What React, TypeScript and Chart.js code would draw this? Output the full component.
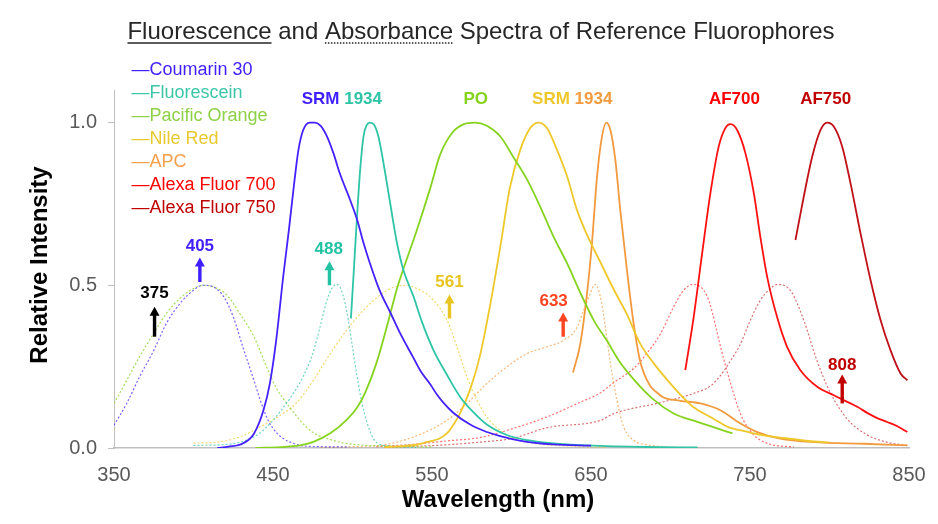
import React, { useEffect, useRef } from 'react';
import { Chart, registerables } from 'chart.js';

Chart.register(...registerables);

const FONT = '"Liberation Sans", Arial, sans-serif';

// ---- series names / colours ----
const fluorophores = ['Coumarin 30', 'Fluorescein', 'Pacific Orange', 'Nile Red', 'APC', 'Alexa Fluor 700', 'Alexa Fluor 750'];
const lineColors = ['#4422FF', '#2EC4A6', '#86D31E', '#EEC82A', '#F29A3E', '#FF1010', '#C01018'];
const dotColors = ['rgba(68,34,255,0.7)', 'rgba(46,196,166,0.7)', 'rgba(134,211,30,0.75)', 'rgba(238,200,42,0.7)', 'rgba(242,154,62,0.7)', 'rgba(255,16,16,0.6)', 'rgba(192,16,24,0.6)'];
const legendColors = ['#3F1FFF', '#3CC6A8', '#8ED148', '#E9C92E', '#F4A04A', '#FF0000', '#C00000'];

// ---- emission spectra (wavelength nm, relative intensity) ----
const coumarinEm: [number, number][] = [[415, 0], [422, 0.004], [431, 0.014], [438, 0.044], [444, 0.116], [448, 0.198], [452, 0.331], [456.5, 0.53], [460, 0.67], [463, 0.8], [466, 0.916], [469, 0.977], [473, 1.0], [476.5, 1.0], [480, 0.99], [484, 0.957], [488, 0.906], [492, 0.844], [498.5, 0.762], [503, 0.7], [507, 0.629], [511, 0.567], [517, 0.485], [524, 0.414], [530, 0.352], [538, 0.28], [543, 0.235], [549, 0.195], [553, 0.165], [557, 0.14], [563, 0.11], [574, 0.072], [584, 0.05], [595, 0.034], [605, 0.023], [626, 0.011], [650, 0.007]];
const fluoresceinEm: [number, number][] = [[499, 0.398], [500.6, 0.526], [502.7, 0.7], [504.8, 0.854], [506.9, 0.957], [509, 0.993], [511, 1.0], [513.6, 0.993], [516.3, 0.957], [519.5, 0.875], [523.7, 0.752], [528, 0.629], [532, 0.547], [538.4, 0.465], [543.5, 0.39], [551, 0.3], [559.4, 0.225], [567.7, 0.157], [576, 0.11], [584.5, 0.072], [597, 0.04], [610, 0.024], [626.5, 0.014], [647.5, 0.008], [685, 0.003], [717, 0.002]];
const pacificOrangeEm: [number, number][] = [[439, 0], [455, 0.003], [467, 0.008], [475, 0.018], [486, 0.045], [496, 0.085], [503, 0.125], [508, 0.17], [515, 0.26], [522, 0.38], [528, 0.49], [532, 0.55], [540.5, 0.67], [549, 0.8], [555, 0.9], [563, 0.97], [570, 0.995], [577, 1.0], [584.5, 0.99], [593, 0.957], [601, 0.895], [610, 0.823], [618, 0.742], [626.5, 0.649], [635, 0.567], [643, 0.48], [652, 0.39], [660, 0.33], [668, 0.265], [677, 0.21], [689, 0.15], [702, 0.106], [717, 0.08], [739, 0.045]];
const nileRedEm: [number, number][] = [[520, 0.002], [540, 0.01], [545, 0.016], [555, 0.03], [560, 0.048], [564, 0.075], [568, 0.11], [574, 0.18], [580, 0.28], [586.6, 0.44], [593, 0.62], [599, 0.8], [605.5, 0.916], [611.8, 0.983], [617, 1.0], [622.3, 0.983], [628.6, 0.916], [635, 0.834], [641.2, 0.731], [647.5, 0.655], [656, 0.57], [664, 0.49], [672.7, 0.41], [681, 0.32], [689.5, 0.26], [697.8, 0.21], [706, 0.165], [714.6, 0.125], [727, 0.09], [736, 0.065], [748, 0.05], [757, 0.04], [769, 0.032], [790, 0.02], [800, 0.017]];
const apcEm: [number, number][] = [[638.7, 0.232], [643.3, 0.321], [647.5, 0.475], [650.6, 0.629], [653.8, 0.834], [656.9, 0.957], [659.6, 1.0], [662.2, 0.977], [665.3, 0.885], [668.4, 0.731], [672.6, 0.547], [676.8, 0.383], [681, 0.265], [687.3, 0.19], [691.5, 0.17], [695.7, 0.155], [706.2, 0.145], [718.8, 0.137], [731.4, 0.116], [744, 0.075], [754.5, 0.049], [769, 0.029], [790, 0.018], [821.5, 0.013], [849, 0.008]];
const af700Em: [number, number][] = [[709.3, 0.239], [714.6, 0.403], [719.9, 0.598], [725.1, 0.783], [730.3, 0.926], [734.5, 0.983], [737.7, 0.995], [741.9, 0.977], [747.1, 0.906], [752.4, 0.783], [756.5, 0.649], [760.8, 0.526], [767, 0.403], [773.3, 0.311], [781.7, 0.239], [792.3, 0.188], [802.7, 0.162], [813.2, 0.137], [818, 0.125], [823.7, 0.108], [830, 0.092], [836.3, 0.08], [843, 0.066], [849, 0.049]];
const af750Em: [number, number][] = [[778.6, 0.639], [783.8, 0.772], [789.1, 0.895], [794.3, 0.977], [798.5, 1.0], [802.7, 0.988], [808, 0.926], [813.2, 0.814], [819.5, 0.66], [825.8, 0.516], [832.1, 0.393], [838.4, 0.3], [844.7, 0.229], [849, 0.208]];

// ---- absorbance spectra (scaled to 0.5) ----
const coumarinAbs: [number, number][] = [[350, 0.07], [358, 0.137], [366, 0.218], [375, 0.3], [383, 0.383], [391.5, 0.444], [400, 0.485], [406, 0.5], [412.5, 0.495], [419, 0.465], [425, 0.403], [431, 0.311], [438, 0.208], [442, 0.147], [446, 0.095], [450, 0.06], [456.5, 0.029], [463, 0.014], [467, 0.008], [480, 0.004], [498, 0.003]];
const fluoresceinAbs: [number, number][] = [[400, 0.008], [423, 0.012], [440, 0.04], [450, 0.085], [455, 0.115], [461, 0.155], [469, 0.22], [475, 0.29], [480, 0.38], [484, 0.455], [487, 0.49], [490, 0.503], [493, 0.485], [496.4, 0.42], [500, 0.31], [502.7, 0.225], [506, 0.137], [509, 0.08], [513, 0.03], [519.5, 0.008], [540, 0.002]];
const pacificOrangeAbs: [number, number][] = [[350, 0.137], [358, 0.208], [366, 0.28], [375, 0.352], [383, 0.414], [391.5, 0.46], [400, 0.49], [406, 0.5], [412.5, 0.495], [421, 0.47], [429, 0.414], [438, 0.342], [446, 0.249], [452, 0.185], [459, 0.135], [467, 0.085], [475, 0.048], [486, 0.026], [496, 0.014], [520, 0.006], [550, 0.003]];
const nileRedAbs: [number, number][] = [[400, 0.015], [415, 0.018], [429, 0.034], [442, 0.065], [454.5, 0.1], [465, 0.14], [475.4, 0.208], [486, 0.29], [496.4, 0.362], [507, 0.424], [517.4, 0.47], [526, 0.494], [533, 0.5], [542.6, 0.485], [551, 0.454], [559.4, 0.393], [565.7, 0.311], [572, 0.218], [578.3, 0.147], [584.5, 0.095], [593, 0.054], [601.4, 0.029], [614, 0.014], [640, 0.005], [660, 0.002]];
const apcAbs: [number, number][] = [[480, 0.002], [500, 0.004], [517.4, 0.008], [538.4, 0.034], [559.4, 0.085], [572, 0.137], [584.5, 0.198], [597, 0.249], [609.7, 0.29], [622.3, 0.311], [632.8, 0.331], [641.2, 0.37], [645.4, 0.424], [649.6, 0.475], [652.5, 0.503], [655.9, 0.465], [659, 0.372], [662.2, 0.26], [666.3, 0.147], [670.5, 0.065], [676.8, 0.024], [685, 0.01], [719, 0.0]];
const af700Abs: [number, number][] = [[515, 0.004], [540, 0.012], [560, 0.022], [580, 0.032], [601, 0.06], [622, 0.095], [643, 0.14], [656, 0.17], [664, 0.2], [677, 0.245], [685, 0.29], [693.6, 0.35], [702, 0.434], [708.3, 0.485], [714.6, 0.503], [720.9, 0.485], [725, 0.44], [731, 0.32], [737.7, 0.2], [744, 0.105], [752, 0.042], [761, 0.014], [777.6, 0.003]];
const af750Abs: [number, number][] = [[520, 0.002], [560, 0.01], [580, 0.018], [601, 0.03], [622, 0.062], [656, 0.085], [664, 0.105], [694, 0.14], [714.6, 0.168], [725, 0.19], [731, 0.22], [736, 0.255], [744, 0.32], [750, 0.39], [756, 0.45], [762.8, 0.49], [767.5, 0.503], [776, 0.48], [784, 0.39], [792, 0.27], [800, 0.175], [811, 0.09], [823, 0.042], [836, 0.018], [849, 0.008]];

const emissions = [coumarinEm, fluoresceinEm, pacificOrangeEm, nileRedEm, apcEm, af700Em, af750Em];
const absorbances = [coumarinAbs, fluoresceinAbs, pacificOrangeAbs, nileRedAbs, apcAbs, af700Abs, af750Abs];

// ---- axes ----
const xTicks = [350, 450, 550, 650, 750, 850];
const yTicks = [0, 0.5, 1.0];
const xRange = [350, 850];
const yRange = [0, 1.1];

// ---- laser line annotations ----
const laserLabels = ['375', '405', '488', '561', '633', '808'];
const laserArrowWl = [375.5, 404, 485.5, 561, 632.5, 808];
const laserLabelWl = [375.5, 404, 485, 561, 626.5, 808];
const laserLabelY = [0.475, 0.62, 0.61, 0.509, 0.451, 0.254];
const arrowTipY = [0.434, 0.585, 0.574, 0.472, 0.416, 0.226];
const arrowBaseY = [0.342, 0.51, 0.5, 0.398, 0.342, 0.137];
const laserColors = ['#000000', '#3F1FFF', '#22C2A2', '#E9C420', '#FF4422', '#C00000'];

// ---- peak labels ----
const peakLabels: [string, string][][] = [
  [['SRM', '#3F1FFF'], [' 1934', '#2EC4A6']],
  [['PO', '#86D31E']],
  [['SRM', '#EEC82A'], [' 1934', '#F29A3E']],
  [['AF700', '#FF0000']],
  [['AF750', '#C00000']],
];
const peakLabelWl = [493.3, 577.5, 638.2, 740.2, 797.6];
const peakLabelY = 1.07;

const titleParts: [string, string][] = [['Fluorescence', 'solid'], [' and ', 'none'], ['Absorbance', 'dotted'], [' Spectra of Reference Fluorophores', 'none']];

const overlayPlugin = {
  id: 'overlay',
  afterDatasetsDraw(chart: any) {
    const { ctx, scales } = chart;
    const x = scales.x;
    const y = scales.y;
    ctx.save();
    // arrows + laser labels
    laserArrowWl.forEach((wl, i) => {
      const px = x.getPixelForValue(wl);
      const tip = y.getPixelForValue(arrowTipY[i]);
      const base = y.getPixelForValue(arrowBaseY[i]);
      ctx.strokeStyle = laserColors[i];
      ctx.fillStyle = laserColors[i];
      ctx.lineWidth = 3.4;
      ctx.beginPath();
      ctx.moveTo(px, base);
      ctx.lineTo(px, tip + 7);
      ctx.stroke();
      ctx.beginPath();
      ctx.moveTo(px, tip);
      ctx.lineTo(px - 5, tip + 9);
      ctx.lineTo(px + 5, tip + 9);
      ctx.closePath();
      ctx.fill();
      ctx.font = `bold 17px ${FONT}`;
      ctx.textAlign = 'center';
      ctx.textBaseline = 'middle';
      ctx.fillText(laserLabels[i], x.getPixelForValue(laserLabelWl[i]), y.getPixelForValue(laserLabelY[i]));
    });
    // peak labels
    ctx.font = `bold 17px ${FONT}`;
    ctx.textBaseline = 'middle';
    ctx.textAlign = 'left';
    peakLabels.forEach((parts, i) => {
      const total = parts.reduce((s, p) => s + ctx.measureText(p[0]).width, 0);
      let cx = x.getPixelForValue(peakLabelWl[i]) - total / 2;
      const cy = y.getPixelForValue(peakLabelY);
      parts.forEach((p) => {
        ctx.fillStyle = p[1];
        ctx.fillText(p[0], cx, cy);
        cx += ctx.measureText(p[0]).width;
      });
    });
    ctx.restore();
  },
  afterDraw(chart: any) {
    const { ctx } = chart;
    ctx.save();
    // title
    ctx.font = `24px ${FONT}`;
    ctx.textBaseline = 'alphabetic';
    ctx.textAlign = 'left';
    ctx.fillStyle = '#262626';
    const tw = titleParts.reduce((s, p) => s + ctx.measureText(p[0]).width, 0);
    let tx = 473 - tw / 2;
    const ty = 31;
    titleParts.forEach((p) => {
      const w = ctx.measureText(p[0]).width;
      ctx.fillText(p[0], tx, ty);
      if (p[1] !== 'none') {
        ctx.strokeStyle = '#262626';
        ctx.lineWidth = 1.3;
        ctx.setLineDash(p[1] === 'dotted' ? [1.5, 1.5] : []);
        ctx.beginPath();
        ctx.moveTo(tx, ty + 4);
        ctx.lineTo(tx + w, ty + 4);
        ctx.stroke();
        ctx.setLineDash([]);
      }
      tx += w;
    });
    // legend
    ctx.font = `18px ${FONT}`;
    ctx.textBaseline = 'middle';
    fluorophores.forEach((name, i) => {
      ctx.fillStyle = legendColors[i];
      ctx.fillText('\u2014' + name, 123.5, 62 + 23 * i);
    });
    // axis titles
    ctx.fillStyle = '#000000';
    ctx.font = `bold 24px ${FONT}`;
    ctx.textAlign = 'center';
    ctx.textBaseline = 'middle';
    ctx.fillText('Wavelength (nm)', 490, 492);
    ctx.translate(32, 257);
    ctx.rotate(-Math.PI / 2);
    ctx.fillText('Relative Intensity', 0, 0);
    ctx.restore();
  },
};

export default function App() {
  const ref = useRef<HTMLCanvasElement | null>(null);
  useEffect(() => {
    if (!ref.current) return;
    const toPts = (arr: [number, number][]) => arr.map(([a, b]) => ({ x: a, y: b }));
    const datasets: any[] = [];
    emissions.forEach((arr, i) => {
      datasets.push({
        label: fluorophores[i],
        data: toPts(arr),
        borderColor: lineColors[i],
        borderWidth: 1.8,
        pointRadius: 0,
        cubicInterpolationMode: 'monotone',
        fill: false,
      });
    });
    absorbances.forEach((arr, i) => {
      datasets.push({
        label: fluorophores[i] + ' absorbance',
        data: toPts(arr),
        borderColor: dotColors[i],
        borderWidth: 1.2,
        borderDash: [2, 2],
        pointRadius: 0,
        cubicInterpolationMode: 'monotone',
        fill: false,
      });
    });
    const chart = new Chart(ref.current, {
      type: 'line',
      data: { datasets },
      options: {
        responsive: false,
        animation: false,
        layout: { padding: { top: 82, right: 21, left: 0, bottom: 0 } },
        plugins: { legend: { display: false }, tooltip: { enabled: false }, title: { display: false } },
        scales: {
          x: {
            type: 'linear',
            min: xRange[0],
            max: xRange[1],
            afterBuildTicks: (s: any) => { s.ticks = xTicks.map((v) => ({ value: v })); },
            afterFit: (s: any) => { s.height = 68; s.paddingLeft = 0; s.paddingRight = 0; },
            grid: { drawOnChartArea: false, drawTicks: false },
            border: { color: '#BFBFBF', width: 1.5 },
            ticks: { padding: 15, color: '#595959', font: { size: 20, family: FONT }, maxRotation: 0, autoSkip: false, callback: (v: any) => String(v) },
          },
          y: {
            type: 'linear',
            min: yRange[0],
            max: yRange[1],
            afterBuildTicks: (s: any) => { s.ticks = yTicks.map((v) => ({ value: v })); },
            afterFit: (s: any) => { s.width = 106; s.paddingTop = 0; s.paddingBottom = 0; },
            grid: { drawOnChartArea: false, drawTicks: true, tickLength: 6, color: '#BFBFBF' },
            border: { color: '#BFBFBF', width: 1 },
            ticks: { padding: 11, color: '#595959', font: { size: 20, family: FONT }, callback: (v: any) => Number(v).toFixed(1) },
          },
        },
      },
      plugins: [overlayPlugin],
    });
    return () => chart.destroy();
  }, []);
  return (
    <div style={{ width: 922, height: 508 }}>
      <canvas ref={ref} width={922} height={508} style={{ display: 'block' }} />
    </div>
  );
}
